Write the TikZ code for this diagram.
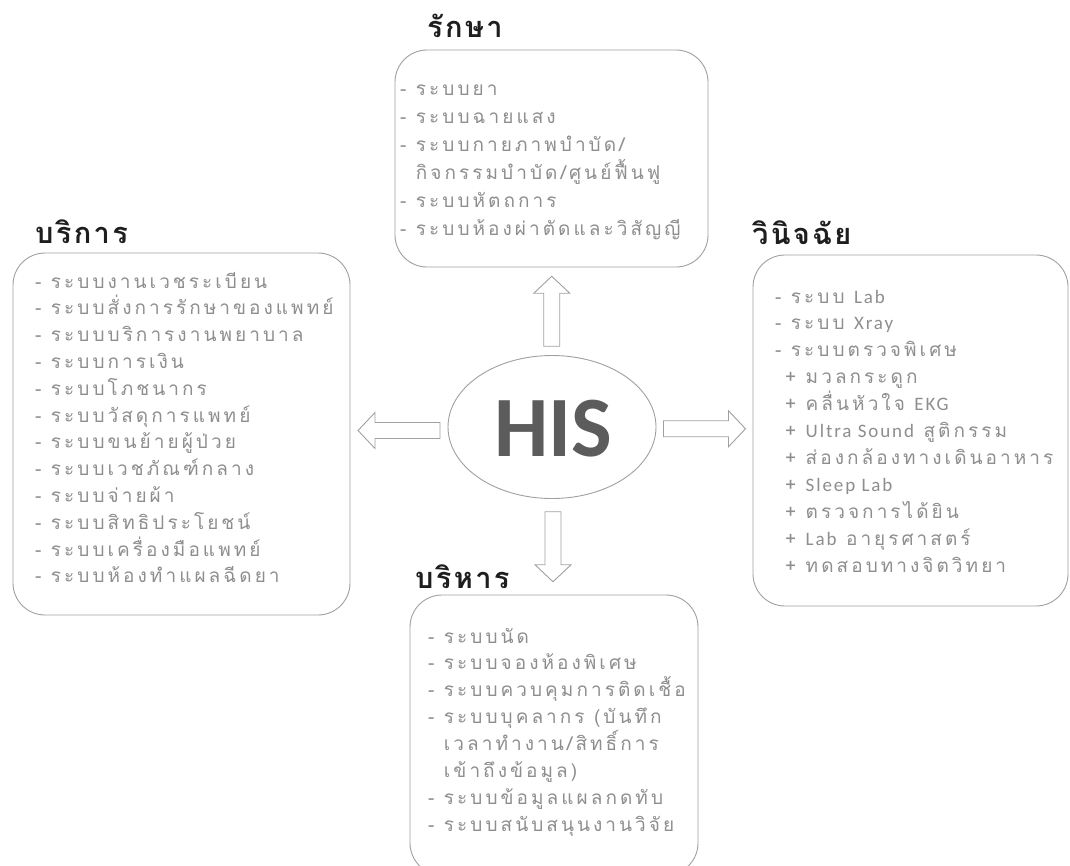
\documentclass[tikz,border=0pt]{standalone}
\usepackage{fontspec}
\usetikzlibrary{shapes.geometric,calc}
\newfontfamily\thaiwide[Script=Thai,LetterSpace=16]{Loma}
\newfontfamily\thaihead[Script=Thai,LetterSpace=8]{Loma}
\newfontfamily\lat[LetterSpace=10]{Carlito}
\newfontfamily\latbig{Carlito}
\definecolor{txtgray}{HTML}{8E8E8E}
\definecolor{linegray}{HTML}{A0A0A0}
\definecolor{headink}{HTML}{1E1E1E}
\definecolor{hisink}{HTML}{5C5C5C}
\begin{document}
\begin{tikzpicture}[x=1pt,y=-1pt,
  panel/.style={draw=linegray, line width=0.9pt, rounded corners=32pt, inner sep=0},
  heading/.style={anchor=base west, inner sep=0, text=headink,
    font=\thaihead\bfseries\fontsize{29}{29}\selectfont},
  item/.style={anchor=base west, inner sep=0, text=txtgray,
    font=\thaiwide\fontsize{19}{27}\selectfont},
  arrowline/.style={draw=linegray, fill=white, line width=0.9pt},
  pics/barrow/.style={code={
    \draw[arrowline] (-#1,-8) -- (#1-17,-8) -- (#1-17,-18) -- (#1,0)
      -- (#1-17,18) -- (#1-17,8) -- (-#1,8) -- cycle;}}
]
\useasboundingbox[fill=white] (0,0) rectangle (1070,865);

% the four panels
\node[panel, minimum width=313pt, minimum height=217pt] (treat) at (551.5,158.5) {};
\node[panel, minimum width=337pt, minimum height=362pt] (serve) at (181.5,434) {};
\node[panel, minimum width=315pt, minimum height=351pt] (diag)  at (910.5,430.5) {};
\node[panel, minimum width=288pt, minimum height=280pt] (admin) at (554,735) {};

% centre
\node[ellipse, draw=linegray, line width=0.9pt, minimum width=208pt,
      minimum height=143pt, inner sep=0] (his) at (552,427) {};
\node[text=hisink, font=\latbig\bfseries\fontsize{86}{86}\selectfont, inner sep=0]
  (histext) at (553,429) {HIS};

% block arrows from the centre to each panel
\coordinate (aup) at ($(his.north)!0.5!(treat.south)$);
\coordinate (adown) at ($(his.south)!0.5!(admin.north)$);
\coordinate (aleft) at ($(his.west)!0.5!(serve.east)$);
\coordinate (aright) at ($(his.east)!0.5!(diag.west)$);
\pic[rotate=90] at (aup) {barrow=35};
\pic[rotate=-90] at (adown) {barrow=35};
\pic[rotate=180] at (aleft) {barrow=41};
\pic at (aright) {barrow=41};

% headings
\node[heading] (htreat) at (427,37) {รักษา};
\node[heading] (hserve) at (35,243) {บริการ};
\node[heading] (hdiag)  at (752,244) {วินิจฉัย};
\node[heading] (hadmin) at (415,588) {บริหาร};

% treatment items
\foreach \t [count=\i] in {
  - ระบบยา,
  - ระบบฉายแสง,
  - ระบบกายภาพบำบัด/,
  \hphantom{-\ }กิจกรรมบำบัด/ศูนย์ฟื้นฟู,
  - ระบบหัตถการ,
  - ระบบห้องผ่าตัดและวิสัญญี}
  \node[item] (tr\i) at (400,95+28*\i-28) {\t};

% service items
\foreach \t [count=\i] in {
  - ระบบงานเวชระเบียน,
  - ระบบสั่งการรักษาของแพทย์,
  - ระบบบริการงานพยาบาล,
  - ระบบการเงิน,
  - ระบบโภชนากร,
  - ระบบวัสดุการแพทย์,
  - ระบบขนย้ายผู้ป่วย,
  - ระบบเวชภัณฑ์กลาง,
  - ระบบจ่ายผ้า,
  - ระบบสิทธิประโยชน์,
  - ระบบเครื่องมือแพทย์,
  - ระบบห้องทำแผลฉีดยา}
  \node[item] (sv\i) at (35,288+26.8*\i-26.8) {\t};

% diagnosis items
\foreach \t [count=\i] in {
  - ระบบ {\lat Lab},
  - ระบบ {\lat Xray},
  - ระบบตรวจพิเศษ,
  \hspace{10pt}+ มวลกระดูก,
  \hspace{10pt}+ คลื่นหัวใจ {\lat EKG},
  \hspace{10pt}+ {\lat Ultra Sound} สูติกรรม,
  \hspace{10pt}+ ส่องกล้องทางเดินอาหาร,
  \hspace{10pt}+ {\lat Sleep Lab},
  \hspace{10pt}+ ตรวจการได้ยิน,
  \hspace{10pt}+ {\lat Lab} อายุรศาสตร์,
  \hspace{10pt}+ ทดสอบทางจิตวิทยา}
  \node[item] (dg\i) at (775,303+26.9*\i-26.9) {\t};

% administration items
\foreach \t [count=\i] in {
  - ระบบนัด,
  - ระบบจองห้องพิเศษ,
  - ระบบควบคุมการติดเชื้อ,
  - ระบบบุคลากร (บันทึก,
  \hphantom{-\ }เวลาทำงาน/สิทธิ์การ,
  \hphantom{-\ }เข้าถึงข้อมูล),
  - ระบบข้อมูลแผลกดทับ,
  - ระบบสนับสนุนงานวิจัย}
  \node[item] (ad\i) at (428,643+26.9*\i-26.9) {\t};
\end{tikzpicture}
\end{document}
